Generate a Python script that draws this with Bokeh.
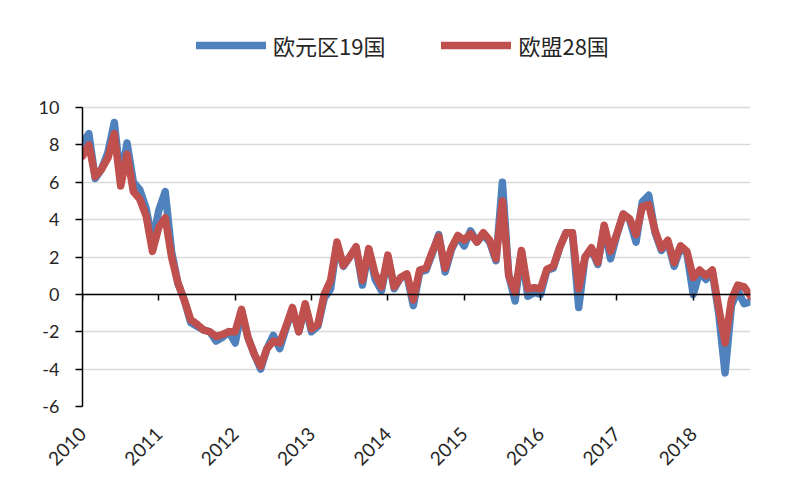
from bokeh.plotting import figure
from bokeh.models import (Range1d, FixedTicker, LinearAxis, Legend, LegendItem,
                          CustomJSTickFormatter)
from bokeh.embed import file_html
from bokeh.resources import INLINE

# ---- data (monthly, Jan 2010 .. Oct 2018) ----
start_year = 2010
euro_area_19 = [8.1, 8.6, 6.2, 6.7, 7.6, 9.2, 6.1, 8.1, 6.0, 5.6, 4.6, 2.8,
                4.5, 5.5, 2.3, 0.6, -0.3, -1.5, -1.7, -1.9, -2.0, -2.5, -2.3, -2.0,
                -2.6, -0.9, -2.3, -3.2, -4.0, -2.9, -2.2, -2.9, -1.8, -0.8, -2.0, -0.6,
                -2.0, -1.7, -0.2, 0.3, 2.7, 1.5, 2.0, 2.5, 0.5, 2.4, 0.8, 0.2,
                2.0, 0.3, 0.9, 1.0, -0.6, 1.2, 1.3, 2.2, 3.2, 1.2, 2.4, 3.1,
                2.6, 3.4, 2.8, 3.2, 2.8, 1.8, 6.0, 1.0, -0.35, 2.3, -0.1, 0.1,
                0.0, 1.3, 1.4, 2.5, 3.3, 3.3, -0.7, 2.0, 2.4, 1.6, 3.6, 1.9,
                3.2, 4.3, 4.0, 2.8, 4.95, 5.3, 3.3, 2.35, 2.8, 1.5, 2.5, 2.2,
                0.0, 1.2, 0.8, 1.2, -1.0, -4.2, -0.6, 0.2, -0.5, -0.4]
eu_28 = [7.4, 8.0, 6.3, 6.7, 7.3, 8.6, 5.8, 7.5, 5.5, 5.1, 4.2, 2.3,
         3.6, 4.1, 2.0, 0.6, -0.3, -1.35, -1.6, -1.9, -2.0, -2.25, -2.15, -2.0,
         -2.0, -0.8, -2.3, -3.2, -3.85, -2.9, -2.5, -2.6, -1.7, -0.7, -2.0, -0.5,
         -1.85, -1.6, 0.0, 0.75, 2.8, 1.55, 2.0, 2.55, 0.75, 2.45, 1.1, 0.4,
         2.1, 0.4, 0.9, 1.1, -0.3, 1.3, 1.4, 2.3, 3.1, 1.4, 2.5, 3.15,
         2.9, 3.25, 2.8, 3.3, 2.9, 1.9, 5.0, 1.0, 0.1, 2.35, 0.3, 0.35,
         0.3, 1.35, 1.5, 2.5, 3.3, 3.3, 0.3, 2.0, 2.5, 1.7, 3.7, 2.3,
         3.25, 4.3, 4.05, 3.2, 4.7, 4.8, 3.4, 2.45, 2.9, 1.7, 2.6, 2.3,
         0.9, 1.3, 1.0, 1.3, -0.7, -2.6, -0.3, 0.5, 0.4, -0.1]
series_names = ["欧元区19国", "欧盟28国"]
year_ticks = [2010, 2011, 2012, 2013, 2014, 2015, 2016, 2017, 2018]
year_labels = ["2010", "2011", "2012", "2013", "2014", "2015", "2016", "2017", "2018"]
y_ticks = [-6, -4, -2, 0, 2, 4, 6, 8, 10]
y_labels = ["-6", "-4", "-2", "0", "2", "4", "6", "8", "10"]

months = [start_year + i / 12 for i in range(len(euro_area_19))]

BLUE = "#4f81bd"
RED = "#c0504d"
TEXT = "#262626"
NUM_FONT = "Lato"
CJK_FONT = "Noto Sans CJK SC"

# frame spans page y 10..406; values -6..10 occupy y 107..406, headroom above holds legend
y_top = y_ticks[-1] + (107 - 10) / ((406 - 107) / (y_ticks[-1] - y_ticks[0]))

p = figure(width=796, height=496, output_backend="svg", toolbar_location=None,
           x_range=Range1d(months[0], months[-1]), y_range=Range1d(y_ticks[0], y_top),
           min_border_left=82, min_border_right=46, min_border_top=10, min_border_bottom=90)
p.outline_line_color = None
p.background_fill_color = "white"
p.border_fill_color = "white"

# grid
p.xgrid.grid_line_color = None
p.ygrid.ticker = FixedTicker(ticks=y_ticks)
p.ygrid.grid_line_color = "#d9d9d9"
p.ygrid.grid_line_width = 1.5

# left axis
p.yaxis.ticker = FixedTicker(ticks=y_ticks)
p.yaxis.bounds = (y_ticks[0], y_ticks[-1])
p.yaxis.major_label_overrides = {t: l for t, l in zip(y_ticks, y_labels)}
p.yaxis.axis_line_color = "black"
p.yaxis.axis_line_width = 1.5
p.yaxis.major_tick_line_color = "black"
p.yaxis.major_tick_line_width = 1.5
p.yaxis.major_tick_out = 7
p.yaxis.major_tick_in = 0
p.yaxis.minor_tick_line_color = None
p.yaxis.major_label_standoff = 16
p.yaxis.major_label_text_font = NUM_FONT
p.yaxis.major_label_text_font_size = "18px"
p.yaxis.major_label_text_color = TEXT

# bottom axis: labels only
p.xaxis.ticker = FixedTicker(ticks=year_ticks)
p.xaxis.major_label_overrides = {t: l for t, l in zip(year_ticks, year_labels)}
p.xaxis.axis_line_color = None
p.xaxis.major_tick_line_color = None
p.xaxis.minor_tick_line_color = None
p.xaxis.major_label_orientation = 0.785398
p.xaxis.major_label_standoff = 18
p.xaxis.major_label_text_font = NUM_FONT
p.xaxis.major_label_text_font_size = "19px"
p.xaxis.major_label_text_color = TEXT

# zero axis with year ticks
zero_axis = LinearAxis(fixed_location=0, ticker=FixedTicker(ticks=year_ticks),
                       formatter=CustomJSTickFormatter(code="return ''"),
                       axis_line_color="black", axis_line_width=1.5,
                       major_tick_line_color="black", major_tick_line_width=1.5,
                       major_tick_out=6, major_tick_in=0,
                       minor_tick_line_color=None, major_label_standoff=0)
p.add_layout(zero_axis, "below")

r_blue = p.line(months, euro_area_19, line_color=BLUE, line_width=7.5,
                line_join="round", line_cap="round")
r_red = p.line(months, eu_28, line_color=RED, line_width=7.5,
               line_join="round", line_cap="round")

legend = Legend(items=[LegendItem(label=series_names[0], renderers=[r_blue]),
                       LegendItem(label=series_names[1], renderers=[r_red])],
                orientation="horizontal", location=(114, 345),
                glyph_width=70, glyph_height=20, label_standoff=7, spacing=56,
                label_text_font=CJK_FONT, label_text_font_size="22px",
                label_text_color=TEXT, border_line_color=None,
                background_fill_alpha=0, padding=0, margin=0)
p.add_layout(legend, "center")

open("out.html", "w").write(file_html(p, INLINE))
